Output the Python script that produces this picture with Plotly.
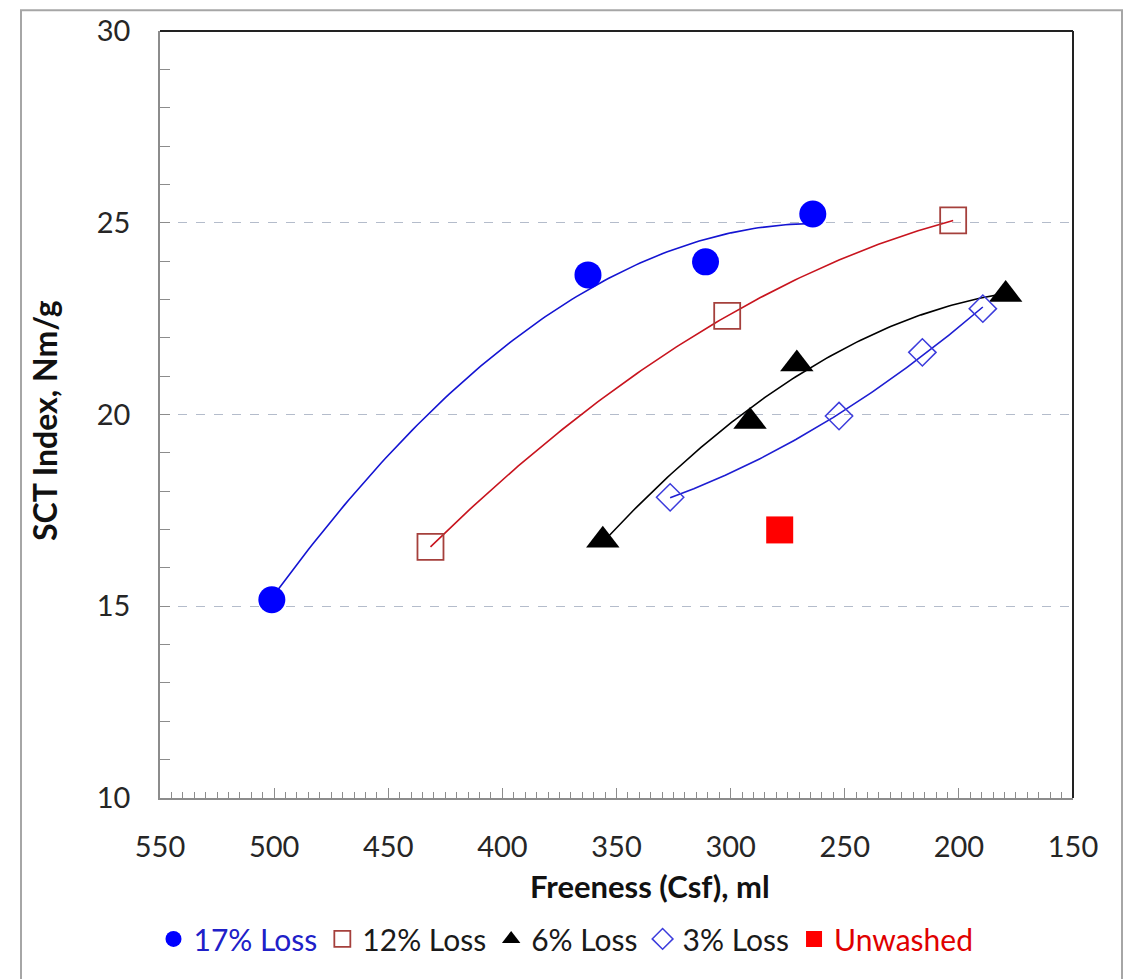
import numpy as np
import plotly.graph_objects as go

# ---- data ----
loss17_x = [501.0, 362.5, 311.0, 264.0]
loss17_y = [15.17, 23.64, 23.98, 25.23]

loss12_x = [431.5, 301.5, 202.5]
loss12_y = [16.55, 22.57, 25.06]

loss6_x = [356.0, 291.5, 271.0, 179.5]
loss6_y = [16.72, 19.82, 21.32, 23.13]

loss3_x = [326.5, 252.5, 216.0, 189.5]
loss3_y = [17.84, 19.96, 21.62, 22.76]

unwashed_x = [278.5]
unwashed_y = [16.99]

x_ticks = [550, 500, 450, 400, 350, 300, 250, 200, 150]
y_ticks = [10, 15, 20, 25, 30]

FONT = "Lato"

fig = go.Figure()


def trend(xs, ys):
    c = np.polyfit(xs, ys, 2)
    xx = np.linspace(min(xs), max(xs), 120)
    return xx, np.polyval(c, xx)


# trendlines (2nd order polynomial, as in the original)
for xs, ys, col in [
    (loss17_x, loss17_y, "#1414D2"),
    (loss12_x, loss12_y, "#C8141E"),
    (loss6_x, loss6_y, "#000000"),
    (loss3_x, loss3_y, "#1E1ED2"),
]:
    tx, ty = trend(xs, ys)
    fig.add_trace(go.Scatter(x=tx, y=ty, mode="lines", showlegend=False,
                             hoverinfo="skip", line=dict(color=col, width=1.6)))

fig.add_trace(go.Scatter(
    x=loss17_x, y=loss17_y, mode="markers",
    name="<span style='color:#2020C8'>17% Loss</span>",
    marker=dict(symbol="circle", size=27, color="#0000FF", line=dict(width=0))))
fig.add_trace(go.Scatter(
    x=loss12_x, y=loss12_y, mode="markers",
    name="<span style='color:#1a1a1a'>12% Loss</span>",
    marker=dict(symbol="square-open", size=26, color="#A5403C", line=dict(width=1.8))))
fig.add_trace(go.Scatter(
    x=loss6_x, y=loss6_y, mode="markers",
    name="<span style='color:#1a1a1a'>6% Loss</span>",
    marker=dict(symbol="triangle-up", size=29, color="#000000", line=dict(width=0))))
fig.add_trace(go.Scatter(
    x=loss3_x, y=loss3_y, mode="markers",
    name="<span style='color:#1a1a1a'>3% Loss</span>",
    marker=dict(symbol="diamond-open", size=21, color="#3C3CDC", line=dict(width=1.5))))
fig.add_trace(go.Scatter(
    x=unwashed_x, y=unwashed_y, mode="markers",
    name="<span style='color:#E00000'>Unwashed</span>",
    marker=dict(symbol="square", size=27, color="#FF0000", line=dict(width=0))))

W, H = 1127, 979
L, R, T, B = 160, 1073, 25, 798
pw, ph = R - L, B - T


def px_x(p):
    return (p - L) / pw


def px_y(p):
    return (B - p) / ph


fig.update_layout(
    width=W, height=H,
    margin=dict(l=L, r=W - R, t=T, b=H - B),
    paper_bgcolor="white", plot_bgcolor="white",
    font=dict(family=FONT, color="#262626"),
    showlegend=True,
    legend=dict(orientation="h", x=px_x(566), xanchor="center",
                y=px_y(940), yanchor="middle",
                font=dict(family=FONT, size=30),
                itemsizing="trace", tracegroupgap=0,
                bgcolor="rgba(0,0,0,0)"),
    xaxis=dict(
        range=[550, 150], tickmode="array", tickvals=x_ticks,
        ticktext=[str(v) for v in x_ticks],
        showgrid=False, zeroline=False,
        showline=True, linecolor="#8C8C8C", linewidth=1.5,
        ticks="inside", ticklen=10, tickcolor="#8C8C8C", tickwidth=1,
        minor=dict(dtick=5, tick0=150, ticks="inside", ticklen=6,
                   tickcolor="#8C8C8C", showgrid=False),
        tickfont=dict(family=FONT, size=29, color="#262626"),
        ticklabelstandoff=22,
    ),
    yaxis=dict(
        range=[10, 30], tickmode="array", tickvals=y_ticks,
        ticktext=[str(v) for v in y_ticks],
        showgrid=True, gridcolor="#B4BCCB", griddash="dash", gridwidth=1,
        zeroline=False,
        showline=True, linecolor="#8C8C8C", linewidth=1.5,
        ticks="inside", ticklen=10, tickcolor="#8C8C8C", tickwidth=1,
        minor=dict(dtick=1, tick0=10, ticks="inside", ticklen=10,
                   tickcolor="#8C8C8C", showgrid=False),
        tickfont=dict(family=FONT, size=29, color="#262626"),
        ticklabelstandoff=22,
    ),
    annotations=[
        dict(text="<b>Freeness (Csf), ml</b>", xref="paper", yref="paper",
             x=px_x(650), y=px_y(887), xanchor="center", yanchor="middle",
             showarrow=False, font=dict(family=FONT, size=31, color="#111111")),
        dict(text="<b>SCT Index, Nm/g</b>", xref="paper", yref="paper",
             x=px_x(45), y=px_y(418), xanchor="center", yanchor="middle",
             textangle=-90, showarrow=False,
             font=dict(family=FONT, size=32, color="#111111")),
    ],
    shapes=[
        # top and right frame of the plot area
        dict(type="line", xref="paper", yref="paper", x0=0, x1=1, y0=1, y1=1,
             line=dict(color="#222222", width=2)),
        dict(type="line", xref="paper", yref="paper", x0=1, x1=1, y0=0, y1=1,
             line=dict(color="#222222", width=2)),
        # outer chart border
        dict(type="rect", xref="paper", yref="paper",
             x0=px_x(21), x1=px_x(1122), y0=px_y(1000), y1=px_y(4),
             line=dict(color="#A6A6A6", width=2), layer="below"),
    ],
)

fig.write_html("out.html", config={"displayModeBar": False},
               post_script="document.body.style.margin='0';document.body.style.overflow='hidden';")
